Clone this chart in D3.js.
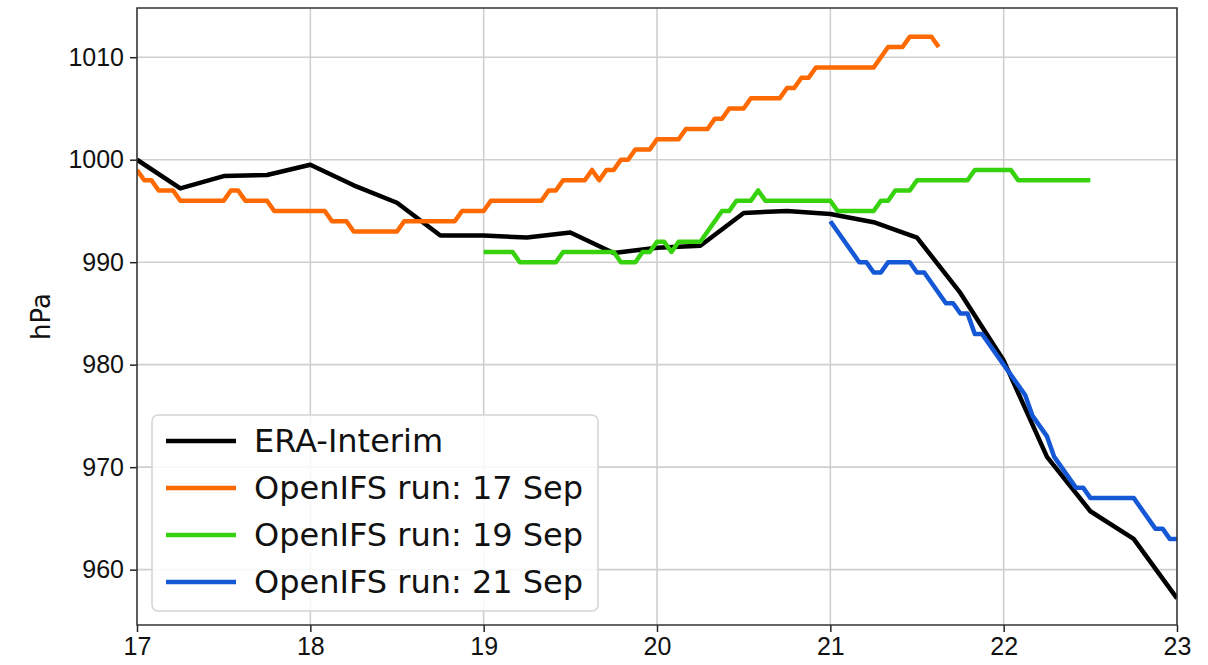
<!DOCTYPE html>
<html>
<head>
<meta charset="utf-8">
<script src="https://cdn.jsdelivr.net/npm/d3@7"></script>
<style>
  body { margin: 0; background: #fff; }
  svg { font-family: "DejaVu Sans", sans-serif; }
  .grid line { stroke: #cfcfcf; stroke-width: 1.6; }
  .axis path { display: none; }
  .axis line { stroke: #222; stroke-width: 1.5; }
  .axis text { font-size: 25px; fill: #111; }
</style>
</head>
<body>
<script>
// SVG size
const w = 1208;
const h = 665;
const margin = { top: 8, right: 31, bottom: 40, left: 137 };

// ERA-Interim, 6-hourly from 17 Sep 00Z
const eraStartDay = 17;
const eraValues = [1000.0, 997.2, 998.4, 998.5, 999.5, 997.5, 995.8, 992.6,
    992.6, 992.4, 992.9, 990.9, 991.4, 991.6, 994.8, 995.0,
    994.7, 993.9, 992.4, 987.0, 980.4, 971.0, 965.7, 963.0, 957.2];

// OpenIFS runs: [hours since 17 Sep 00Z, hPa] at each corner of the drawn line
const run17 = [[0, 999], [1, 998], [2, 998], [3, 997], [5, 997], [6, 996], [12, 996], [13, 997],
    [14, 997], [15, 996], [18, 996], [19, 995], [26, 995], [27, 994], [29, 994], [30, 993],
    [36, 993], [37, 994], [44, 994], [45, 995], [48, 995], [49, 996], [56, 996], [57, 997],
    [58, 997], [59, 998], [62, 998], [63, 999], [64, 998], [65, 999], [66, 999], [67, 1000],
    [68, 1000], [69, 1001], [71, 1001], [72, 1002], [75, 1002], [76, 1003], [79, 1003], [80, 1004],
    [81, 1004], [82, 1005], [84, 1005], [85, 1006], [89, 1006], [90, 1007], [91, 1007], [92, 1008],
    [93, 1008], [94, 1009], [102, 1009], [104, 1011], [106, 1011], [107, 1012], [110, 1012], [111, 1011]];

const run19 = [[48, 991], [52, 991], [53, 990], [58, 990], [59, 991], [66, 991], [67, 990], [69, 990],
    [70, 991], [71, 991], [72, 992], [73, 992], [74, 991], [75, 992], [78, 992], [81, 995],
    [82, 995], [83, 996], [85, 996], [86, 997], [87, 996], [96, 996], [97, 995], [102, 995],
    [103, 996], [104, 996], [105, 997], [107, 997], [108, 998], [115, 998], [116, 999], [121, 999],
    [122, 998], [132, 998]];

const run21 = [[96, 994], [100, 990], [101, 990], [102, 989], [103, 989], [104, 990], [107, 990], [108, 989],
    [109, 989], [112, 986], [113, 986], [114, 985], [115, 985], [116, 983], [117, 983], [123, 977],
    [124, 975], [126, 973], [127, 971], [130, 968], [131, 968], [132, 967], [138, 967], [141, 964],
    [142, 964], [143, 963], [144, 963]];

const seriesNames = ["ERA-Interim", "OpenIFS run: 17 Sep", "OpenIFS run: 19 Sep", "OpenIFS run: 21 Sep"];
const seriesColors = ["#000000", "#ff6a00", "#36d20e", "#1558d6"];

const xTicks = [17, 18, 19, 20, 21, 22, 23];
const yTicks = [960, 970, 980, 990, 1000, 1010];

// Convert to [day, hPa]
const era = eraValues.map((v, i) => [eraStartDay + i * 0.25, v]);
const toDays = arr => arr.map(d => [17 + d[0] / 24, d[1]]);
const allSeries = [era, toDays(run17), toDays(run19), toDays(run21)];

// Scales
const xScale = d3.scaleLinear()
    .domain([17, 23])
    .range([margin.left, w - margin.right]);

const yScale = d3.scaleLinear()
    .domain([954.6, 1014.8])
    .range([h - margin.bottom, margin.top]);

const svg = d3.select("body")
    .append("svg")
    .attr("width", w)
    .attr("height", h);

// Grid
svg.append("g")
    .attr("class", "grid")
    .selectAll("line")
    .data(xTicks)
    .join("line")
    .attr("x1", d => xScale(d)).attr("x2", d => xScale(d))
    .attr("y1", margin.top).attr("y2", h - margin.bottom);

svg.append("g")
    .attr("class", "grid")
    .selectAll("line")
    .data(yTicks)
    .join("line")
    .attr("x1", margin.left).attr("x2", w - margin.right)
    .attr("y1", d => yScale(d)).attr("y2", d => yScale(d));

// Clip to plot area
svg.append("clipPath")
    .attr("id", "plot-clip")
    .append("rect")
    .attr("x", margin.left)
    .attr("y", margin.top)
    .attr("width", w - margin.left - margin.right)
    .attr("height", h - margin.top - margin.bottom);

const line = d3.line()
    .x(d => xScale(d[0]))
    .y(d => yScale(d[1]));

svg.append("g")
    .attr("clip-path", "url(#plot-clip)")
    .selectAll("path")
    .data(allSeries)
    .join("path")
    .attr("fill", "none")
    .attr("stroke", (d, i) => seriesColors[i])
    .attr("stroke-width", 4.5)
    .attr("stroke-linejoin", "round")
    .attr("stroke-linecap", "butt")
    .attr("d", line);

// Axes
svg.append("g")
    .attr("class", "axis")
    .attr("transform", `translate(0, ${h - margin.bottom})`)
    .call(d3.axisBottom(xScale).tickValues(xTicks).tickSize(7).tickPadding(5).tickFormat(d3.format("d")));

svg.append("g")
    .attr("class", "axis")
    .attr("transform", `translate(${margin.left}, 0)`)
    .call(d3.axisLeft(yScale).tickValues(yTicks).tickSize(7).tickPadding(6).tickFormat(d3.format("d")));

// Frame
svg.append("rect")
    .attr("x", margin.left)
    .attr("y", margin.top)
    .attr("width", w - margin.left - margin.right)
    .attr("height", h - margin.top - margin.bottom)
    .attr("fill", "none")
    .attr("stroke", "#333")
    .attr("stroke-width", 1.5);

// Y-axis label
svg.append("text")
    .attr("transform", "rotate(-90)")
    .attr("x", -(margin.top + h - margin.bottom) / 2)
    .attr("y", 50)
    .attr("text-anchor", "middle")
    .attr("font-size", 26)
    .attr("fill", "#111")
    .text("hPa");

// Legend
const legend = svg.append("g").attr("transform", "translate(152, 415)");

legend.append("rect")
    .attr("width", 446)
    .attr("height", 196)
    .attr("rx", 6)
    .attr("fill", "white")
    .attr("fill-opacity", 0.85)
    .attr("stroke", "#d4d4d4")
    .attr("stroke-width", 1.5);

const items = legend.selectAll("g.item")
    .data(seriesNames)
    .join("g")
    .attr("transform", (d, i) => `translate(0, ${26 + i * 47})`);

items.append("line")
    .attr("x1", 14).attr("x2", 84)
    .attr("stroke", (d, i) => seriesColors[i])
    .attr("stroke-width", 4.5);

items.append("text")
    .attr("x", 102)
    .attr("y", 11)
    .attr("font-size", 32)
    .attr("fill", "#111")
    .text(d => d);
</script>
</body>
</html>
